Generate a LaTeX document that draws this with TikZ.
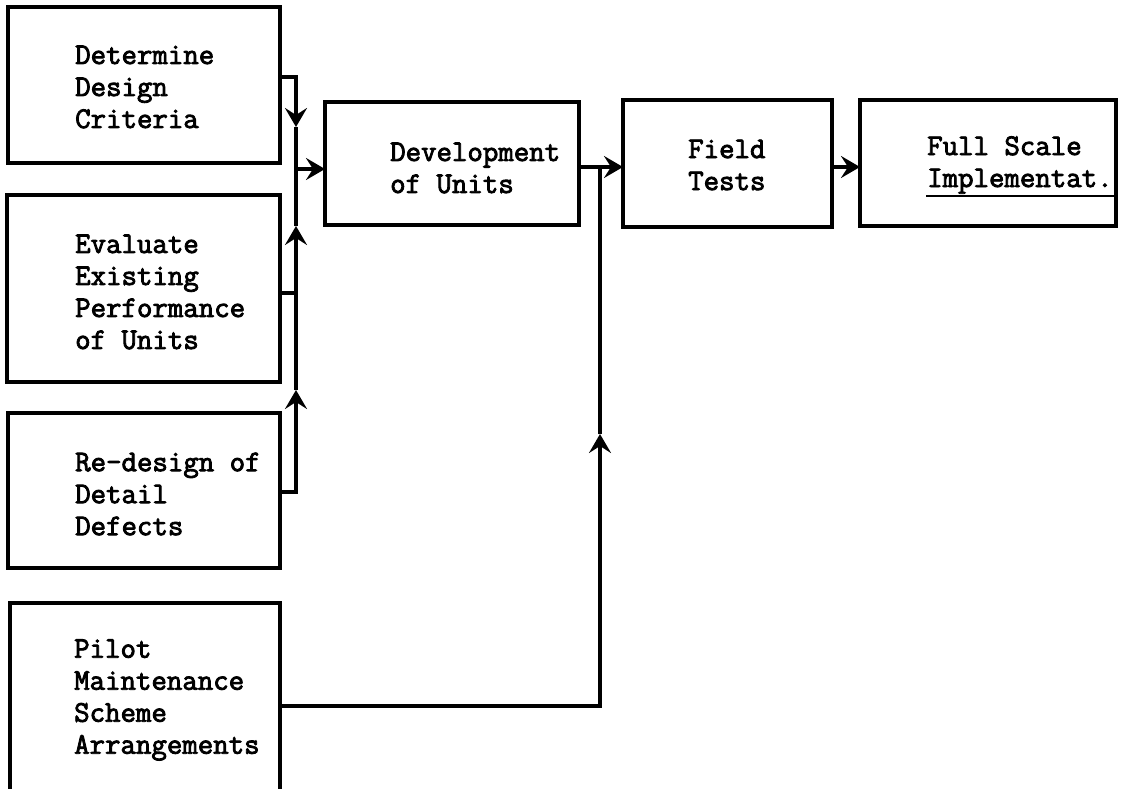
\documentclass[tikz,border=0pt]{standalone}
\usepackage{fontspec}
\newfontfamily\twfont{Latin Modern Mono}[FakeBold=2.8]
\usetikzlibrary{arrows.meta,calc}
\begin{document}
\begin{tikzpicture}[x=1pt,y=-1pt,
  box/.style={draw, line width=3.2pt, inner sep=0pt, outer sep=0pt, anchor=north west},
  lbl/.style={font=\fontsize{30}{32}\selectfont\twfont, align=left, anchor=west, inner sep=0pt},
  wire/.style={line width=3.2pt},
  tip/.style={-{Stealth[length=19pt,width=22pt,inset=7pt]}}
]
\useasboundingbox (0,0) rectangle (1121,789);

% boxes
\node[box, minimum width=272pt, minimum height=156pt] (det) at (8,7) {};
\node[box, minimum width=273pt, minimum height=187pt] (eva) at (7,195) {};
\node[box, minimum width=272pt, minimum height=155pt] (red) at (8,413) {};
\node[inner sep=0pt, outer sep=0pt, anchor=north west, minimum width=270pt, minimum height=190pt] (pil) at (10,603) {};
\draw[line width=3.2pt] (pil.south west) -- (pil.north west) -- (pil.north east) -- (pil.south east);
\node[box, minimum width=254pt, minimum height=123pt] (dev) at (325,102) {};
\node[box, minimum width=209pt, minimum height=127pt] (fie) at (623,100) {};
\node[box, minimum width=256pt, minimum height=126pt] (ful) at (860,100) {};

% labels
\node[lbl] (tdet) at (75,87) {Determine\\Design\\Criteria};
\node[lbl] (teva) at (75,292) {Evaluate\\Existing\\Performance\\of Units};
\node[lbl] (tred) at (75,494) {Re-design of\\Detail\\Defects};
\node[lbl] (tpil) at (74,700) {Pilot\\Maintenance\\Scheme\\Arrangements};
\node[lbl] (tdev) at (390,168) {Development\\of Units};
\node[lbl] (tfie) at (688,165) {Field\\Tests};
\node[lbl] (tful) at (927,165) {Full Scale\\Implementat.};
\draw[line width=2.4pt] (926,196) -- (1116,196);

% bus on the left
\coordinate (b1) at (296,77);
\coordinate (b2) at (296,169);
\coordinate (b3) at (296,293);
\coordinate (b4) at (296,492);
\coordinate (a1) at (296,127);
\coordinate (a2) at (296,226);
\coordinate (a3) at (296,390);

\draw[wire,tip] (det.east |- b1) -- (b1) -- (a1);
\draw[wire] (a1) -- (b2);
\draw[wire,tip] (b2) -- (dev.west |- b2);
\draw[wire] (eva.east |- b3) -- (b3);
\draw[wire,tip] (b3) -- (a2);
\draw[wire] (a2) -- (b2);
\draw[wire,tip] (red.east |- b4) -- (b4) -- (a3);
\draw[wire] (a3) -- (b3);

% right part
\coordinate (c1) at (600,167);
\coordinate (c2) at (600,706);
\coordinate (a4) at (600,434);
\draw[wire,tip] (dev.east |- c1) -- (fie.west |- c1);
\draw[wire,tip] (pil.east |- c2) -- (c2) -- (a4);
\draw[wire] (a4) -- (c1);
\draw[wire,tip] (fie.east |- c1) -- (ful.west |- c1);
\end{tikzpicture}
\end{document}
